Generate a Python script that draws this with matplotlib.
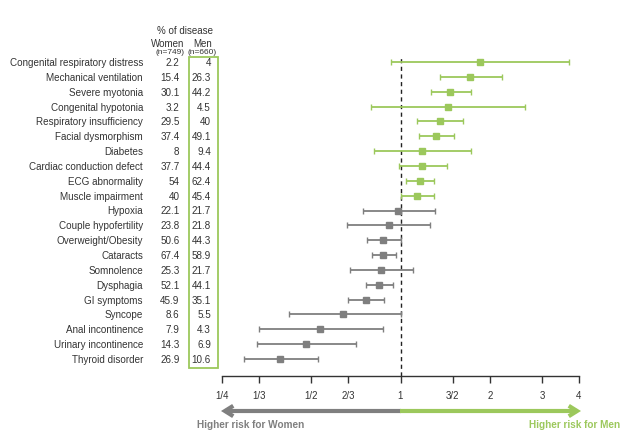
import matplotlib
matplotlib.use("Agg")
import matplotlib.pyplot as plt
import matplotlib.transforms as mtransforms
import numpy as np

plt.rcParams['font.family'] = ['Liberation Sans', 'DejaVu Sans']

labels = ["Congenital respiratory distress", "Mechanical ventilation", "Severe myotonia",
          "Congenital hypotonia", "Respiratory insufficiency", "Facial dysmorphism",
          "Diabetes", "Cardiac conduction defect", "ECG abnormality", "Muscle impairment",
          "Hypoxia", "Couple hypofertility", "Overweight/Obesity", "Cataracts",
          "Somnolence", "Dysphagia", "GI symptoms", "Syncope", "Anal incontinence",
          "Urinary incontinence", "Thyroid disorder"]
women = ["2.2", "15.4", "30.1", "3.2", "29.5", "37.4", "8", "37.7", "54", "40",
         "22.1", "23.8", "50.6", "67.4", "25.3", "52.1", "45.9", "8.6", "7.9", "14.3", "26.9"]
men = ["4", "26.3", "44.2", "4.5", "40", "49.1", "9.4", "44.4", "62.4", "45.4",
       "21.7", "21.8", "44.3", "58.9", "21.7", "44.1", "35.1", "5.5", "4.3", "6.9", "10.6"]
odds = [1.85, 1.72, 1.47, 1.45, 1.36, 1.32, 1.18, 1.18, 1.16, 1.14,
        0.98, 0.916, 0.876, 0.874, 0.86, 0.847, 0.764, 0.641, 0.536, 0.48, 0.393]
lower = [0.932, 1.355, 1.27, 0.796, 1.136, 1.154, 0.815, 0.985, 1.04, 1.005,
         0.746, 0.662, 0.772, 0.802, 0.677, 0.764, 0.667, 0.42, 0.332, 0.329, 0.296]
upper = [3.71, 2.20, 1.73, 2.63, 1.63, 1.516, 1.735, 1.43, 1.30, 1.30,
         1.31, 1.26, 1.0, 0.962, 1.098, 0.947, 0.881, 1.0, 0.872, 0.707, 0.526]
tick_vals = [1/4, 1/3, 1/2, 2/3, 1, 3/2, 2, 3, 4]
tick_labels = ["1/4", "1/3", "1/2", "2/3", "1", "3/2", "2", "3", "4"]

GREEN = "#9cc85c"
GRAY = "#7f7f7f"
TXT = "#333333"

W, H = 621, 439
fig = plt.figure(figsize=(W/100, H/100), dpi=100)
ax = fig.add_axes([222/W, 1-377/H, (579-222)/W, (377-50)/H])
ax.set_xscale('log', base=2)
ax.set_xlim(0.25, 4)
n = len(labels)
ax.set_ylim(20 + 17/14.85, -13/14.85)

for i in range(n):
    c = GREEN if i < 10 else GRAY
    ax.errorbar(odds[i], i, xerr=[[odds[i]-lower[i]], [upper[i]-odds[i]]],
                fmt='s', color=c, ms=4.5, mec=c, mfc=c, elinewidth=1.3,
                capsize=2.5, capthick=1.0, zorder=3)

ax.axvline(1, color="#222222", ls=(0, (3, 2.5)), lw=1.0, ymin=0, ymax=0.98, zorder=2)

for s in ['top', 'right', 'left']:
    ax.spines[s].set_visible(False)
ax.spines['bottom'].set_color("#333333")
ax.spines['bottom'].set_linewidth(1.0)
ax.set_yticks([])
ax.set_xticks(tick_vals)
ax.set_xticklabels(tick_labels)
ax.xaxis.set_minor_locator(matplotlib.ticker.NullLocator())
ax.tick_params(axis='x', direction='out', length=5, width=1.0, color="#333333",
               labelsize=7, labelcolor=TXT, pad=5)

# Table
tr = mtransforms.blended_transform_factory(fig.transFigure, ax.transData)
fs = 7.1
for i in range(n):
    fig.text(143/W, i, labels[i], transform=tr, ha='right', va='center', fontsize=fs, color=TXT)
    fig.text(179.5/W, i, women[i], transform=tr, ha='right', va='center', fontsize=fs, color=TXT)
    fig.text(211/W, i, men[i], transform=tr, ha='right', va='center', fontsize=fs, color=TXT)

fig.text(185/W, 1-31.5/H, "% of disease", ha='center', va='center', fontsize=7, color=TXT)
fig.text(168/W, 1-44/H, "Women", ha='center', va='center', fontsize=7, color=TXT)
fig.text(203/W, 1-44/H, "Men", ha='center', va='center', fontsize=7, color=TXT)
fig.text(170/W, 1-52.5/H, "(n=749)", ha='center', va='center', fontsize=6, color=TXT)
fig.text(202.5/W, 1-52.5/H, "(n=660)", ha='center', va='center', fontsize=6, color=TXT)

box = plt.Rectangle((188.5/W, 1-369/H), (217.5-188.5)/W, (369-58)/H,
                    transform=fig.transFigure, fill=False, ec=GREEN, lw=1.3)
fig.patches.append(box)

# Arrows
ya = 1-412/H
fig.patches.append(matplotlib.patches.FancyArrowPatch((401/W, ya), (221/W, ya), transform=fig.transFigure,
                   arrowstyle='->,head_length=4,head_width=2.5', color=GRAY, lw=3, mutation_scale=1.5,
                   joinstyle='miter', capstyle='butt', shrinkA=0, shrinkB=0))
fig.patches.append(matplotlib.patches.FancyArrowPatch((400/W, ya), (581/W, ya), transform=fig.transFigure,
                   arrowstyle='->,head_length=4,head_width=2.5', color=GREEN, lw=3, mutation_scale=1.5,
                   joinstyle='miter', capstyle='butt', shrinkA=0, shrinkB=0))
fig.text(197/W, 1-425/H, "Higher risk for Women", ha='left', va='center', fontsize=7.2,
         fontweight='bold', color=GRAY)
fig.text(620/W, 1-425/H, "Higher risk for Men", ha='right', va='center', fontsize=7.2,
         fontweight='bold', color=GREEN)

fig.savefig("out.png", dpi=100)
